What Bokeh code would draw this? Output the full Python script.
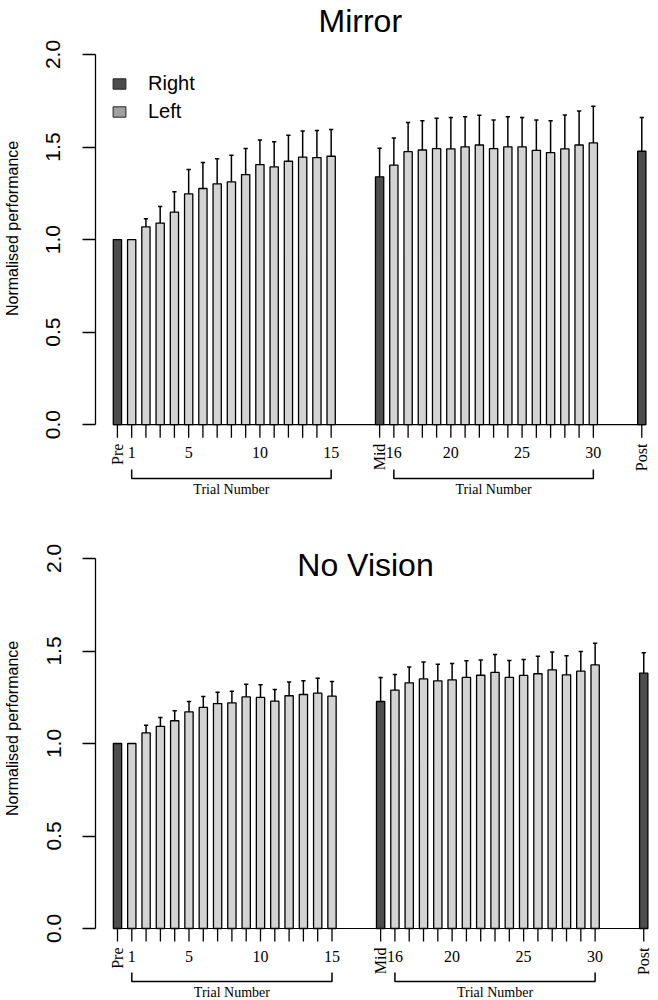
import numpy as np
from bokeh.plotting import figure
from bokeh.models import (Range1d, FixedTicker, PrintfTickFormatter, Legend,
                          LegendItem, Label, Title)
from bokeh.layouts import column
from bokeh.embed import file_html
from bokeh.resources import INLINE
from bokeh.core.properties import value

# ---------------- data ----------------
phases = ["Pre", "Mid", "Post"]
trial_numbers = list(range(1, 31))
labelled_trials = [1, 5, 10, 15, 16, 20, 25, 30]
y_ticks = [0.0, 0.5, 1.0, 1.5, 2.0]
legend_labels = ["Right", "Left"]
y_title = "Normalised performance"

# Right hand (Pre, Mid, Post) means and upper error
mirror_right = [1.000, 1.339, 1.477]
mirror_right_err = [0.000, 0.154, 0.183]
# Left hand trials 1-30
mirror_left = [1.000, 1.069, 1.089, 1.148, 1.247, 1.276, 1.301, 1.312, 1.351, 1.405,
               1.393, 1.423, 1.445, 1.443, 1.450,
               1.402, 1.475, 1.484, 1.491, 1.490, 1.501, 1.511, 1.491, 1.501, 1.501,
               1.482, 1.470, 1.490, 1.511, 1.522]
mirror_left_err = [0.000, 0.043, 0.090, 0.110, 0.131, 0.140, 0.135, 0.144, 0.141, 0.133,
                   0.136, 0.140, 0.142, 0.146, 0.144,
                   0.147, 0.157, 0.158, 0.164, 0.169, 0.163, 0.160, 0.155, 0.163, 0.159,
                   0.164, 0.172, 0.183, 0.183, 0.198]

novision_right = [1.000, 1.227, 1.380]
novision_right_err = [0.000, 0.130, 0.110]
novision_left = [1.000, 1.057, 1.093, 1.123, 1.171, 1.195, 1.216, 1.220, 1.252, 1.249,
                 1.229, 1.258, 1.265, 1.272, 1.256,
                 1.288, 1.328, 1.349, 1.339, 1.344, 1.357, 1.369, 1.384, 1.357, 1.368,
                 1.377, 1.398, 1.371, 1.391, 1.425]
novision_left_err = [0.000, 0.042, 0.048, 0.054, 0.056, 0.059, 0.061, 0.063, 0.068, 0.068,
                     0.063, 0.074, 0.074, 0.081, 0.079,
                     0.085, 0.086, 0.091, 0.089, 0.088, 0.090, 0.083, 0.097, 0.092, 0.086,
                     0.095, 0.096, 0.103, 0.106, 0.117]

# ---------------- layout constants ----------------
DARK = "#4d4d4d"
LIGHT = "#d3d3d3"
LEGEND_LEFT = "#a0a0a0"
SANS = "Liberation Sans"
SERIF = "Liberation Serif"
GAP = 3.4          # gap (in bar slots) between groups
BAR_W = 0.58
CAP_W = 0.30
STEP_PX = 14.3
FIG_W = 658
YTITLE_LEN = 175   # approx. pixel length of the y title at 16px

# x positions (slot units)
n_half = len(trial_numbers) // 2
pre_x = 0.0
first_x = [pre_x + 1 + i for i in range(n_half)]
mid_x = first_x[-1] + GAP
second_x = [mid_x + 1 + i for i in range(n_half)]
post_x = second_x[-1] + GAP
trial_x = first_x + second_x
right_x = [pre_x, mid_x, post_x]
all_x = [pre_x] + first_x + [mid_x] + second_x + [post_x]


def make_panel(title, right, right_err, left, left_err, height, border_left,
               pre_px, border_top, zero_px, scale, offs, ylab_center_px,
               legend=False, title_as_label=False, title_center_px=0):
    frame_w = FIG_W - border_left - 2
    x_start = -(pre_px - border_left) / STEP_PX
    x_end = x_start + frame_w / STEP_PX
    y_end = (zero_px - border_top) / scale
    y_start = -(height - zero_px) / scale

    p = figure(width=FIG_W, height=height, output_backend="svg",
               toolbar_location=None, x_axis_location=None,
               x_range=Range1d(x_start, x_end), y_range=Range1d(y_start, y_end),
               min_border_left=border_left, min_border_right=2,
               min_border_top=border_top, min_border_bottom=0)
    p.xgrid.visible = False
    p.ygrid.visible = False
    p.outline_line_color = None
    p.background_fill_color = "white"
    p.border_fill_color = "white"

    if not title_as_label:
        p.title = Title(text=title, align="left", offset=223,
                        text_font=SANS, text_font_size="32px",
                        text_font_style="normal", text_color="black", standoff=0)

    # y axis
    ya = p.yaxis[0]
    ya.ticker = FixedTicker(ticks=y_ticks)
    ya.formatter = PrintfTickFormatter(format="%.1f")
    ya.bounds = (y_ticks[0], y_ticks[-1])
    ya.major_tick_out = 13
    ya.major_tick_in = 0
    ya.minor_tick_line_color = None
    ya.axis_line_width = 1.3
    ya.major_tick_line_width = 1.3
    ya.axis_line_color = "black"
    ya.major_tick_line_color = "black"
    ya.major_label_orientation = "parallel"
    ya.major_label_text_font = SANS
    ya.major_label_text_font_size = "21px"
    ya.major_label_text_color = "black"
    ya.major_label_standoff = 22
    # blank spacer label that pushes the side title further out
    ya.axis_label = " "
    ya.axis_label_text_font_size = "1px"
    ya.axis_label_standoff = 19

    # y axis title as a side title so it can be centred on the 0-2 span
    p.add_layout(Title(text=y_title, align="left",
                       offset=height - (ylab_center_px + YTITLE_LEN / 2),
                       text_font=SANS, text_font_size="16px",
                       text_font_style="normal", text_color="black",
                       standoff=0), "left")

    # baseline and ticks of the category axis
    p.segment(x0=[pre_x - BAR_W / 2], y0=[0], x1=[post_x + BAR_W / 2], y1=[0],
              line_color="black", line_width=1.2)
    p.segment(x0=all_x, y0=[0] * len(all_x), x1=all_x,
              y1=[-offs["tick"] / scale] * len(all_x),
              line_color="black", line_width=1.3)

    # bars
    p.vbar(x=trial_x, top=left, bottom=0, width=BAR_W, fill_color=LIGHT,
           line_color="black", line_width=1.3)
    p.vbar(x=right_x, top=right, bottom=0, width=BAR_W, fill_color=DARK,
           line_color="black", line_width=1.3)

    # error bars (upper only)
    ex, ey0, ey1 = [], [], []
    for xs, vals, errs in ((trial_x, left, left_err), (right_x, right, right_err)):
        for xv, v, e in zip(xs, vals, errs):
            if e > 0:
                ex.append(xv); ey0.append(v); ey1.append(v + e)
    p.segment(x0=ex, y0=ey0, x1=ex, y1=ey1, line_color="black", line_width=1.5)
    p.segment(x0=[v - CAP_W / 2 for v in ex], y0=ey1,
              x1=[v + CAP_W / 2 for v in ex], y1=ey1,
              line_color="black", line_width=1.5)

    # numeric tick labels
    lx = [trial_x[n - 1] for n in labelled_trials]
    p.text(x=lx, y=[-offs["num"] / scale] * len(lx),
           text=[str(n) for n in labelled_trials],
           text_font=value(SERIF), text_font_size="16px", text_color="black",
           text_align="center", text_baseline="middle")
    # phase labels (rotated)
    p.text(x=right_x, y=[-offs["phase"] / scale] * 3, text=phases,
           angle=np.pi / 2, text_font=value(SERIF), text_font_size="16px",
           text_color="black", text_align="right", text_baseline="middle")

    # brackets + Trial Number
    groups = [(first_x[0], first_x[-1]), (second_x[0], second_x[-1])]
    bxs = [[a, a, b, b] for a, b in groups]
    e, bb = -offs["bend"] / scale, -offs["bracket"] / scale
    bys = [[e, bb, bb, e] for _ in groups]
    p.multi_line(xs=bxs, ys=bys, line_color="black", line_width=1.5)
    p.text(x=[(a + b) / 2 for a, b in groups],
           y=[-offs["label"] / scale] * 2, text=["Trial Number"] * 2,
           text_font=value(SERIF), text_font_size="14px", text_color="black",
           text_align="center", text_baseline="middle")

    if title_as_label:
        tx = x_start + (title_center_px - border_left) / STEP_PX
        p.add_layout(Label(x=tx, y=y_ticks[-1] - 6 / scale, text=title,
                           text_font=SANS, text_font_size="32px",
                           text_color="black", text_align="center",
                           text_baseline="alphabetic"))

    if legend:
        r1 = p.rect(x=[np.nan], y=[np.nan], width=1, height=1, fill_color=DARK,
                    line_color="#222222", line_width=1)
        r2 = p.rect(x=[np.nan], y=[np.nan], width=1, height=1,
                    fill_color=LEGEND_LEFT, line_color="#222222", line_width=1)
        frame_h = height - border_top
        leg = Legend(items=[LegendItem(label=legend_labels[0], renderers=[r1]),
                            LegendItem(label=legend_labels[1], renderers=[r2])],
                     location=(6, frame_h - 24 - 72),
                     glyph_width=16, glyph_height=13, label_standoff=21,
                     label_height=24, spacing=4, padding=10, margin=0,
                     label_text_font=SANS, label_text_font_size="20px",
                     label_text_color="black",
                     border_line_alpha=0, background_fill_alpha=0)
        p.add_layout(leg)
    return p


top_offs = dict(tick=13, num=28, phase=19, bend=45, bracket=54, label=65)
bot_offs = dict(tick=13, num=28, phase=19, bend=44, bracket=53, label=64)

p1 = make_panel("Mirror", mirror_right, mirror_right_err, mirror_left,
                mirror_left_err, height=504, border_left=93, pre_px=115,
                border_top=37, zero_px=424, scale=185.5, offs=top_offs,
                ylab_center_px=228, legend=True)
p2 = make_panel("No Vision", novision_right, novision_right_err, novision_left,
                novision_left_err, height=496, border_left=95, pre_px=117,
                border_top=10, zero_px=424, scale=185.0, offs=bot_offs,
                ylab_center_px=224, title_as_label=True, title_center_px=365)

layout = column(p1, p2, spacing=0)
open("out.html", "w").write(file_html(layout, INLINE))
